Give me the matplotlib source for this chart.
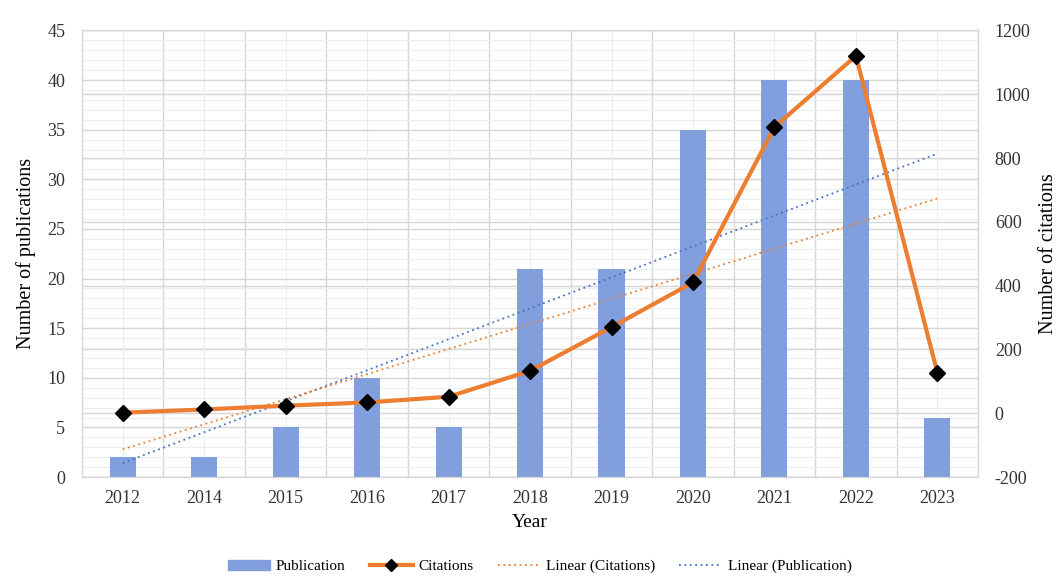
import matplotlib
matplotlib.use("Agg")
import matplotlib.pyplot as plt
from matplotlib.ticker import MultipleLocator
from matplotlib.lines import Line2D
from matplotlib.patches import Patch
import numpy as np

###############################################################
# Data
###############################################################
years = ['2012', '2014', '2015', '2016', '2017', '2018', '2019', '2020', '2021', '2022', '2023']
publications = [2, 2, 5, 10, 5, 21, 21, 35, 40, 40, 6]
citations = [2, 12, 24, 34, 52, 133, 270, 410, 897, 1120, 127]

plt.rcParams['font.family'] = ['Liberation Serif', 'DejaVu Serif']
plt.rcParams['axes.unicode_minus'] = False

x_pos = np.arange(len(years))
bar_color = '#809FDC'
line_color = '#ED7D31'
grid_major = '#d6d6d6'
grid_minor = '#ededed'

left_lim = (0, 45)
right_lim = (-200, 1200)

fig = plt.figure(figsize=(10.58, 5.84), dpi=100)
ax = fig.add_axes([0.0775, 0.183, 0.847, 0.765])
ax2 = ax.twinx()

###############################################################
# Gridlines (all drawn on the left axes so they stay behind the bars)
###############################################################
ax.set_xlim(-0.5, len(years) - 0.5)
ax.set_ylim(*left_lim)
ax.yaxis.set_major_locator(MultipleLocator(5))
ax.yaxis.set_minor_locator(MultipleLocator(1))
ax.grid(which='minor', axis='y', color=grid_minor, linewidth=0.8)
ax.grid(which='major', axis='y', color=grid_major, linewidth=1.0)
# right axis gridlines, mapped into left axis units
for v in range(right_lim[0], right_lim[1] + 1, 200):
    y_left = (v - right_lim[0]) / (right_lim[1] - right_lim[0]) * left_lim[1]
    ax.axhline(y_left, color=grid_major, linewidth=1.0, zorder=0.5)
for i in range(len(years) + 1):
    ax.axvline(i - 0.5, color=grid_major, linewidth=1.0, zorder=0.5)
for i in range(len(years)):
    ax.axvline(i, color=grid_minor, linewidth=0.8, zorder=0.5)
ax.set_axisbelow(True)

# Bars
ax.bar(x_pos, publications, width=0.32, color=bar_color, zorder=2)

# Linear trend (publication) on left axis
p_fit = np.polyfit(x_pos + 1, publications, 1)
ax.plot(x_pos, np.polyval(p_fit, x_pos + 1), linestyle=(0, (1, 2)), color='#4472C4',
        linewidth=1.3, zorder=3)

# Right axis: citations
ax2.set_ylim(*right_lim)
ax2.yaxis.set_major_locator(MultipleLocator(200))
c_fit = np.polyfit(x_pos + 1, citations, 1)
ax2.plot(x_pos, np.polyval(c_fit, x_pos + 1), linestyle=(0, (1, 2)), color=line_color,
         linewidth=1.3, zorder=3)
ax2.plot(x_pos, citations, color=line_color, linewidth=3, marker='D', markersize=8,
         markerfacecolor='black', markeredgecolor='black', zorder=4)
ax2.patch.set_visible(False)

ax.set_xticks(x_pos)
ax.set_xticklabels(years)
for a in (ax, ax2):
    a.tick_params(which='both', length=0, labelsize=13, colors='#333333')
    for s in a.spines.values():
        s.set_color(grid_major)
ax.tick_params(axis='x', pad=9)
ax.tick_params(axis='y', pad=12)
ax2.tick_params(axis='y', pad=12)

ax.set_xlabel('Year', fontsize=14, labelpad=5)
ax.set_ylabel('Number of publications', fontsize=14.5, labelpad=8)
ax2.set_ylabel('Number of citations', fontsize=14.5, labelpad=6)

handles = [
    Patch(color=bar_color),
    Line2D([], [], color=line_color, linewidth=3, marker='D', markersize=6,
           markerfacecolor='black', markeredgecolor='black'),
    Line2D([], [], color=line_color, linestyle=(0, (1, 2)), linewidth=1.3),
    Line2D([], [], color='#4472C4', linestyle=(0, (1, 2)), linewidth=1.3),
]
labels = ['Publication', 'Citations', 'Linear (Citations)', 'Linear (Publication)']
fig.legend(handles, labels, loc='center', bbox_to_anchor=(0.51, 0.03), ncol=4,
           frameon=False, fontsize=11, handlelength=2.8, handletextpad=0.35,
           columnspacing=1.6)

fig.savefig('out.png', dpi=100)
